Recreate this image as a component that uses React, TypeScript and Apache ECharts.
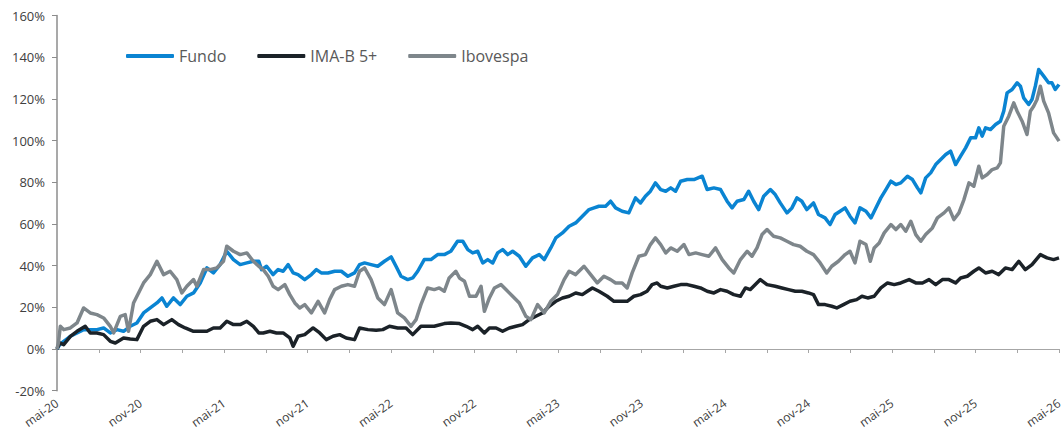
import React, { useEffect, useRef } from "react";
import * as echarts from "echarts";

// x = months since mai-20, y = cumulative return (%)
const xLabels = ["mai-20", "nov-20", "mai-21", "nov-21", "mai-22", "nov-22", "mai-23", "nov-23", "mai-24", "nov-24", "mai-25", "nov-25", "mai-26"];
const yTicks = { min: -20, max: 160, step: 20 };
const seriesNames = ["Fundo", "IMA-B 5+", "Ibovespa"];

const fundoData: [number, number][] = [
  [0, 0], [0.2, 2.1], [0.48, 3.7], [0.96, 6.1], [1.44, 7.7], [1.91, 9.3], [2.39, 9.3], [2.87, 9.3], [3.35, 10.1], [3.83, 7.7],
  [4.31, 9.3], [4.78, 8.5], [5.26, 10.9], [5.74, 12.5], [6.22, 17.3], [6.7, 19.7], [7.18, 22.1], [7.54, 24.5], [7.89, 20.5],
  [8.37, 24.5], [8.85, 21.3], [9.33, 25.3], [9.81, 26.9], [10.29, 31.7], [10.77, 38.9], [11.24, 36.5], [11.72, 40.5],
  [12.2, 46.9], [12.68, 42.9], [13.16, 40.5], [13.64, 41.3], [14.11, 42.1], [14.5, 42.1],
  [14.7, 38.1], [15.06, 39.7], [15.53, 35.7], [15.89, 38.1], [16.25, 37.3], [16.61, 40.5], [16.97, 36.5], [17.32, 35.7],
  [17.8, 33.3], [18.28, 35.7], [18.64, 38.1], [18.99, 36.5], [19.47, 36.5], [19.95, 37.3], [20.43, 37.3], [20.9, 34.9],
  [21.38, 36.5], [21.74, 40.5], [22.1, 41.3], [22.57, 40.5], [23.05, 39.7], [23.53, 42.1], [24.01, 44.2], [24.36, 39.7],
  [24.72, 34.9], [25.2, 33.3], [25.56, 34.1], [25.92, 37.3], [26.39, 42.9], [26.87, 42.9], [27.35, 45.3], [27.83, 45.3],
  [28.3, 46.9], [28.78, 51.7], [29.16, 51.7], [29.52, 47.7], [29.87, 46.1], [30.23, 46.9], [30.59, 41.3], [30.95, 42.9],
  [31.31, 41.3], [31.66, 46.1], [32.02, 47.7], [32.38, 45.3], [32.74, 46.9], [33.22, 44.5], [33.69, 39.7], [34.17, 43.7],
  [34.65, 45.3], [35.01, 42.9], [35.48, 48.5], [35.84, 53.3], [36.32, 55.7], [36.8, 58.9], [37.27, 60.5], [37.75, 63.7],
  [38.23, 66.9], [38.59, 67.7], [38.94, 68.5], [39.42, 68.5], [39.78, 70.9], [40.14, 67.7], [40.61, 66.1], [41.09, 65.3],
  [41.57, 72.5], [41.93, 70.1], [42.28, 73.3], [42.64, 75.7], [43.0, 79.7], [43.38, 76.5], [43.74, 75.7], [44.1, 77.3],
  [44.45, 75.7], [44.81, 80.5], [45.29, 81.3], [45.77, 81.3], [46.36, 82.9], [46.72, 76.5], [47.2, 77.3], [47.68, 76.5],
  [48.15, 70.9], [48.51, 67.7], [48.87, 70.9], [49.35, 71.7], [49.7, 75.7], [50.06, 70.9], [50.42, 66.9], [50.78, 73.3],
  [51.26, 76.5], [51.61, 74.1], [51.97, 70.1], [52.45, 65.3], [52.81, 67.7], [53.17, 72.5], [53.52, 70.9], [53.88, 66.9],
  [54.36, 70.1], [54.72, 64.5], [55.19, 62.9], [55.55, 59.7], [55.91, 64.5], [56.27, 66.1], [56.63, 67.7], [56.98, 63.7],
  [57.34, 60.5], [57.7, 67.7], [58.13, 66.1], [58.49, 62.9], [58.84, 67.7], [59.2, 72.5], [59.56, 76.5], [59.92, 80.5],
  [60.28, 78.9], [60.63, 79.7], [61.11, 82.9], [61.47, 81.3], [61.83, 77.3], [62.07, 74.9], [62.42, 82.1], [62.78, 84.5],
  [63.14, 88.5], [63.5, 90.9], [63.86, 93.3], [64.21, 94.9], [64.57, 88.5], [64.93, 92.5], [65.29, 96.5], [65.65, 101.3],
  [66.0, 101.3], [66.24, 106.1], [66.48, 102.1], [66.72, 106.1], [67.08, 105.3], [67.44, 107.7], [67.79, 109.3],
  [68.03, 114.1], [68.27, 122.9], [68.63, 124.5], [68.99, 127.7], [69.23, 126.1], [69.46, 120.5], [69.82, 117.3],
  [70.06, 119.7], [70.3, 126.1], [70.54, 134.1], [70.9, 130.9], [71.25, 127.7], [71.49, 127.7], [71.73, 124.5], [72.0, 126.9],
];

const imabData: [number, number][] = [
  [0, 0], [0.2, 2.9], [0.48, 2.1], [0.96, 6.1], [1.44, 8.5], [2.03, 10.9], [2.39, 7.7], [2.87, 7.7], [3.35, 6.9], [3.83, 3.7],
  [4.19, 2.9], [4.78, 5.3], [5.26, 4.8], [5.74, 4.5], [6.22, 10.9], [6.7, 13.3], [7.18, 14.1], [7.66, 11.7], [8.25, 14.1],
  [8.73, 11.7], [9.21, 10.1], [9.81, 8.5], [10.29, 8.5], [10.77, 8.5], [11.24, 10.1], [11.72, 10.1], [12.2, 13.3],
  [12.68, 11.7], [13.16, 11.7], [13.64, 13.3], [14.11, 10.9], [14.5, 7.7], [14.82, 7.7], [15.3, 8.5], [15.77, 7.7],
  [16.25, 7.7], [16.73, 5.3], [16.97, 1.3], [17.32, 6.1], [17.8, 6.9], [18.4, 10.1], [18.88, 7.7], [19.35, 4.5], [19.83, 6.1],
  [20.31, 6.9], [20.78, 5.3], [21.38, 4.5], [21.74, 10.1], [22.34, 9.3], [22.93, 9.0], [23.41, 9.3], [23.89, 10.9],
  [24.48, 10.1], [25.08, 10.1], [25.56, 6.9], [26.15, 10.9], [26.63, 10.9], [27.11, 10.9], [27.83, 12.2], [28.3, 12.5],
  [28.92, 12.2], [29.4, 10.9], [29.87, 9.3], [30.23, 10.9], [30.71, 7.7], [31.07, 10.1], [31.55, 10.1], [32.02, 8.5],
  [32.5, 10.1], [32.98, 10.9], [33.45, 11.7], [33.93, 14.1], [34.41, 15.7], [34.89, 17.3], [35.36, 20.5], [35.84, 22.9],
  [36.32, 24.5], [36.8, 25.3], [37.27, 26.9], [37.75, 26.1], [38.11, 27.7], [38.47, 29.3], [38.94, 27.7], [39.54, 25.3],
  [40.02, 22.9], [40.49, 22.9], [40.97, 22.9], [41.45, 25.3], [41.93, 26.1], [42.4, 27.7], [42.76, 30.9], [43.12, 31.7],
  [43.38, 30.1], [43.86, 29.3], [44.33, 30.1], [44.81, 30.9], [45.29, 30.9], [45.77, 30.1], [46.24, 29.3], [46.72, 27.7],
  [47.2, 26.9], [47.68, 28.5], [48.15, 27.7], [48.63, 26.1], [49.11, 25.3], [49.47, 29.3], [49.82, 28.5], [50.18, 30.9],
  [50.54, 33.3], [51.02, 30.9], [51.61, 30.1], [52.09, 29.3], [52.57, 28.5], [53.05, 27.7], [53.52, 27.7], [54.0, 26.9],
  [54.36, 26.1], [54.72, 21.3], [55.19, 21.3], [55.67, 20.5], [56.03, 19.7], [56.51, 21.3], [56.98, 22.9], [57.46, 23.7],
  [57.84, 25.3], [58.25, 24.5], [58.72, 25.3], [59.2, 29.3], [59.68, 31.7], [60.16, 30.9], [60.63, 31.7], [61.23, 33.3],
  [61.71, 31.7], [62.19, 31.7], [62.66, 33.3], [63.14, 30.9], [63.62, 33.3], [64.09, 33.3], [64.57, 31.7], [64.93, 34.1],
  [65.41, 34.9], [65.88, 37.3], [66.24, 38.9], [66.72, 36.5], [67.2, 37.3], [67.67, 35.7], [68.15, 38.9], [68.63, 38.1],
  [69.11, 42.1], [69.58, 38.1], [70.06, 40.5], [70.66, 45.3], [71.14, 43.7], [71.61, 42.9], [72.0, 43.7],
];

const iboveData: [number, number][] = [
  [0, 0], [0.1, 2.9], [0.24, 10.9], [0.48, 9.3], [0.96, 10.1], [1.44, 12.5], [1.91, 19.7], [2.39, 17.3], [2.87, 16.5],
  [3.35, 14.9], [3.83, 10.9], [4.07, 7.7], [4.55, 15.7], [4.9, 16.5], [5.14, 8.5], [5.5, 22.1], [6.22, 31.7], [6.7, 35.7],
  [7.18, 42.1], [7.66, 35.7], [8.13, 37.3], [8.61, 33.3], [8.97, 26.9], [9.33, 30.1], [9.81, 33.3], [10.05, 30.1],
  [10.53, 38.1], [11.0, 38.1], [11.48, 38.9], [11.96, 42.1], [12.2, 49.3], [12.68, 46.9], [13.16, 45.3], [13.64, 46.1],
  [14.11, 42.1], [14.5, 39.7], [14.82, 38.1], [15.18, 34.9], [15.53, 30.1], [15.89, 28.5], [16.37, 30.9], [16.73, 26.1],
  [17.09, 22.1], [17.44, 19.7], [17.8, 21.3], [18.28, 17.3], [18.76, 22.9], [19.23, 17.3], [19.59, 23.7], [19.95, 28.5],
  [20.43, 30.1], [20.9, 30.9], [21.38, 30.1], [21.74, 37.3], [22.1, 38.9], [22.57, 33.3], [23.05, 24.5], [23.53, 21.3],
  [24.01, 28.5], [24.48, 17.3], [24.96, 14.9], [25.44, 10.9], [25.8, 14.1], [26.15, 21.3], [26.63, 29.3], [27.11, 28.5],
  [27.47, 29.3], [27.83, 27.7], [28.18, 34.1], [28.66, 37.3], [28.92, 34.1], [29.28, 32.5], [29.64, 25.3], [30.11, 25.3],
  [30.47, 30.1], [30.71, 18.1], [31.07, 24.5], [31.43, 29.3], [31.9, 30.9], [32.26, 28.5], [32.74, 25.3], [33.22, 22.1],
  [33.69, 15.7], [34.05, 14.1], [34.53, 21.3], [35.01, 17.3], [35.48, 22.9], [35.96, 26.1], [36.44, 33.3], [36.8, 37.3],
  [37.27, 35.7], [37.87, 39.7], [38.35, 35.7], [38.82, 31.7], [39.3, 34.9], [39.78, 33.3], [40.14, 31.7], [40.61, 31.7],
  [40.97, 29.3], [41.33, 36.5], [41.81, 44.5], [42.28, 45.3], [42.64, 50.1], [43.0, 53.3], [43.38, 50.1], [43.74, 46.1],
  [44.1, 48.5], [44.57, 46.9], [45.05, 50.1], [45.41, 45.3], [45.89, 46.1], [46.36, 45.3], [46.84, 44.5], [47.32, 48.5],
  [47.8, 42.9], [48.27, 38.9], [48.63, 36.5], [49.11, 42.9], [49.59, 46.9], [49.94, 44.5], [50.3, 48.5], [50.66, 54.9],
  [51.02, 57.3], [51.49, 54.1], [51.97, 53.3], [52.45, 51.7], [52.93, 50.1], [53.4, 49.3], [53.88, 46.9], [54.36, 45.3],
  [54.84, 41.3], [55.31, 36.5], [55.67, 39.7], [56.15, 42.1], [56.63, 45.3], [56.98, 46.9], [57.34, 41.3], [57.7, 51.7],
  [58.13, 50.1], [58.44, 42.1], [58.72, 48.5], [59.08, 50.9], [59.44, 55.7], [59.92, 59.7], [60.28, 57.3], [60.63, 59.7],
  [60.99, 56.5], [61.35, 61.3], [61.71, 54.9], [62.07, 51.7], [62.42, 54.9], [62.9, 58.1], [63.26, 62.9], [63.74, 65.3],
  [64.09, 67.7], [64.45, 62.1], [64.81, 65.3], [65.17, 71.7], [65.53, 79.7], [65.88, 78.1], [66.24, 87.7], [66.48, 82.1],
  [66.84, 83.7], [67.2, 86.1], [67.56, 86.9], [67.79, 89.3], [68.03, 106.9], [68.39, 111.7], [68.75, 118.1], [68.99, 114.1],
  [69.35, 109.3], [69.7, 102.9], [69.94, 114.1], [70.18, 116.5], [70.42, 119.7], [70.66, 126.1], [70.9, 118.9],
  [71.25, 113.3], [71.61, 103.7], [71.85, 101.3], [72.0, 99.7],
];

const colors = ["#0A84D2", "#1B2228", "#7E868B"];
const FONT = "'Open Sans', sans-serif";

export default function App() {
  const ref = useRef<HTMLDivElement>(null);
  useEffect(() => {
    if (!ref.current) return;
    const chart = echarts.init(ref.current, undefined, { renderer: "svg" });
    const monthsMax = (xLabels.length - 1) * 6;
    chart.setOption({
      animation: false,
      backgroundColor: "#ffffff",
      color: colors,
      grid: { left: 57, right: 5, top: 15.5, bottom: 43.3, containLabel: false, outerBoundsMode: "none" },
      legend: {
        data: seriesNames,
        left: 121,
        top: 43,
        icon: "roundRect",
        itemWidth: 48,
        itemHeight: 4,
        itemGap: 31,
        textStyle: { fontFamily: FONT, fontSize: 16, color: "#595959" },
      },
      xAxis: [
        {
          type: "value",
          position: "bottom",
          min: 0,
          max: monthsMax,
          interval: 3,
          axisLine: { show: false, onZero: false },
          axisTick: { show: false },
          splitLine: { show: false },
          axisLabel: {
            rotate: 35,
            margin: 11,
            fontFamily: FONT,
            fontSize: 12,
            color: "#404040",
            showMinLabel: true,
            showMaxLabel: true,
            formatter: (v: number) => (v % 6 === 0 ? xLabels[v / 6] : ""),
          },
        },
        {
          type: "value",
          position: "bottom",
          min: 0,
          max: monthsMax,
          interval: 3,
          axisLine: { show: true, onZero: true, lineStyle: { color: "#A6A6A6", width: 1 } },
          axisTick: { show: true, length: 4, lineStyle: { color: "#A6A6A6" } },
          axisLabel: { show: false },
          splitLine: { show: false },
        },
      ],
      yAxis: {
        type: "value",
        min: yTicks.min,
        max: yTicks.max,
        interval: yTicks.step,
        axisLine: { show: true, lineStyle: { color: "#8C8C8C", width: 1.5 } },
        axisTick: { show: true, length: 5, lineStyle: { color: "#8C8C8C" } },
        splitLine: { show: false },
        axisLabel: {
          margin: 12,
          fontFamily: FONT,
          fontSize: 13,
          color: "#404040",
          formatter: "{value}%",
        },
      },
      series: [
        { name: seriesNames[0], data: fundoData },
        { name: seriesNames[1], data: imabData },
        { name: seriesNames[2], data: iboveData },
      ].map((s, i) => ({
        ...s,
        type: "line",
        xAxisIndex: 1,
        showSymbol: false,
        symbol: "none",
        lineStyle: { width: 3.5, color: colors[i], join: "round" },
        itemStyle: { color: colors[i] },
      })),
    });
    return () => chart.dispose();
  }, []);
  return (
    <div
      ref={ref}
      style={{ position: "fixed", left: 0, top: 0, width: 1064, height: 434 }}
    />
  );
}
